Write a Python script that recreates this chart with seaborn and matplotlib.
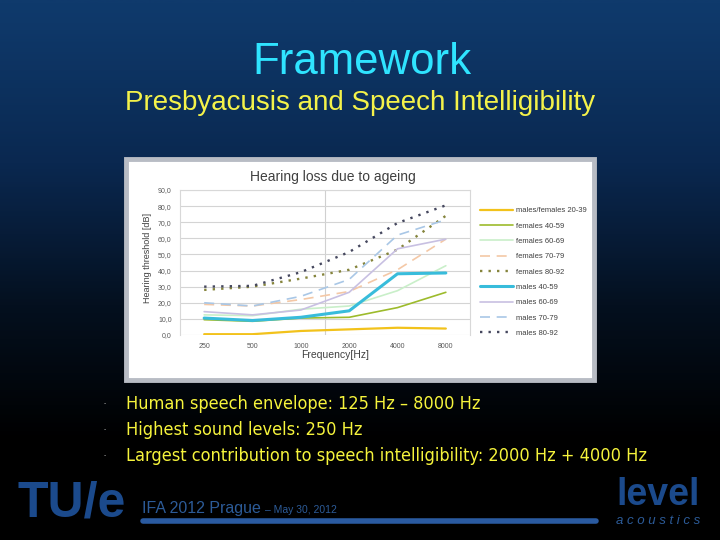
import numpy as np
import pandas as pd
import seaborn as sns
import matplotlib.pyplot as plt
from matplotlib.colors import LinearSegmentedColormap
from matplotlib.patches import Rectangle

# Data (hearing threshold in dB)
freqs = ["250", "500", "1000", "2000", "4000", "8000"]
mf_20_39 = [0.5, 0.5, 2.5, 3.5, 4.5, 4.0]
f_40_59 = [9.5, 8.5, 10.5, 11.0, 17.0, 26.5]
f_60_69 = [12.5, 12.0, 16.0, 18.0, 27.5, 43.0]
f_70_79 = [19.0, 18.0, 22.0, 27.0, 40.5, 59.5]
f_80_92 = [28.0, 30.0, 35.0, 40.5, 53.0, 74.0]
m_40_59 = [10.5, 9.0, 11.0, 15.0, 38.0, 38.5]
m_60_69 = [14.5, 12.5, 15.5, 26.5, 53.5, 59.5]
m_70_79 = [20.0, 18.0, 24.0, 34.5, 62.0, 71.5]
m_80_92 = [30.0, 30.5, 39.0, 51.5, 69.5, 80.5]

series = [
    ("males/females 20-39", mf_20_39, "#f2c21b", "-", 1.6),
    ("females 40-59", f_40_59, "#9dbb2c", "-", 1.2),
    ("females 60-69", f_60_69, "#c9efc9", "-", 1.2),
    ("females 70-79", f_70_79, "#f4c8a6", (0, (6, 4)), 1.2),
    ("females 80-92", f_80_92, "#85843c", (0, (1, 2.6)), 1.7),
    ("males 40-59", m_40_59, "#38bcdb", "-", 2.2),
    ("males 60-69", m_60_69, "#c8c0e2", "-", 1.2),
    ("males 70-79", m_70_79, "#a9c7e6", (0, (6, 4)), 1.2),
    ("males 80-92", m_80_92, "#45475e", (0, (1, 2.6)), 1.7),
]

df = pd.DataFrame({"pos": np.arange(len(freqs))})
for name, vals, _, _, _ in series:
    df[name] = vals

sns.set_style("white")
plt.rcParams["font.family"] = ["Liberation Sans", "DejaVu Sans"]

fig = plt.figure(figsize=(7.2, 5.4), dpi=100)

# slide background in pixel coordinates
bg = fig.add_axes([0, 0, 1, 1], zorder=-5)
bg.set_xlim(0, 720)
bg.set_ylim(540, 0)
bg.axis("off")
cmap = LinearSegmentedColormap.from_list("slide", ["#0f3a6c", "#0a2850", "#04101f", "#000000"])
grad = np.linspace(0, 1, 300).reshape(-1, 1) ** 1.1
bg.imshow(grad, cmap=cmap, extent=(0, 720, 540, 0), aspect="auto", vmin=0, vmax=0.8)

bg.text(362, 63, "Framework", color="#2fe4ff", fontsize=31.5, ha="center", va="center")
bg.text(360, 103, "Presbyacusis and Speech Intelligibility", color="#f4f24a",
        fontsize=20, ha="center", va="center")

# chart frame
bg.add_patch(Rectangle((126, 159), 468, 221, facecolor="white", edgecolor="#b8bcc4", lw=3.5))
bg.text(333, 177, "Hearing loss due to ageing", color="#404040", fontsize=10,
        ha="center", va="center")
bg.text(147, 258, "Hearing threshold [dB]", color="#404040", fontsize=6.5,
        rotation=90, ha="center", va="center")
bg.text(335, 355, "Frequency[Hz]", color="#404040", fontsize=7.5, ha="center", va="center")

# bullets
bullets = ["Human speech envelope: 125 Hz \u2013 8000 Hz",
           "Highest sound levels: 250 Hz",
           "Largest contribution to speech intelligibility: 2000 Hz + 4000 Hz"]
for i, b in enumerate(bullets):
    y = 404 + 26 * i
    bg.text(105, y, "\u00b7", color="#aaaaaa", fontsize=9, ha="center", va="center")
    bg.text(126, y, b, color="#f6f43c", fontsize=13, ha="left", va="center",
            family="DejaVu Sans", fontstretch="condensed")

# footer
bg.text(17, 503, "TU/e", color="#1b4a8c", fontsize=36, fontweight="bold", ha="left", va="center")
bg.text(142, 509, "IFA 2012 Prague", color="#2c5b98", fontsize=11.5, ha="left", va="center")
bg.text(265, 510, "\u2013 May 30, 2012", color="#2c5b98", fontsize=7.5, ha="left", va="center")
bg.plot([143, 596], [521, 521], color="#2a5aa0", lw=4, solid_capstyle="round")
bg.text(658, 495, "level", color="#1b4a8c", fontsize=27, fontweight="bold", ha="center", va="center")
bg.text(658, 521, "a c o u s t i c s", color="#2c5b98", fontsize=9.5, style="italic",
        ha="center", va="center")

# the chart itself
ax = fig.add_axes([180 / 720, 1 - 335 / 540, 290 / 720, 145 / 540], zorder=2)
ax.set_facecolor("white")
for name, vals, color, ls, lw in series:
    sns.lineplot(data=df, x="pos", y=name, ax=ax, color=color, linestyle=ls,
                 linewidth=lw, label=name)

ax.set_xlim(-0.5, 5.5)
ax.set_ylim(0, 90)
ax.set_xticks(range(len(freqs)))
ax.set_xticklabels(freqs)
yt = np.arange(0, 91, 10)
ax.set_yticks(yt)
ax.set_yticklabels([f"{v:.1f}".replace(".", ",") for v in yt])
ax.tick_params(length=0, labelsize=5, colors="#595959", pad=6)
ax.grid(axis="y", color="#d4d4d4", lw=0.8)
ax.axvline(2.5, color="#d0d0d0", lw=0.8, zorder=0)
ax.set_xlabel("")
ax.set_ylabel("")
for s in ax.spines.values():
    s.set_color("#d8d8d8")
    s.set_linewidth(0.8)
ax.spines["bottom"].set_visible(False)

leg = ax.legend(loc="upper left", bbox_to_anchor=(473 / 720, 1 - 200 / 540),
                bbox_transform=fig.transFigure, frameon=False, fontsize=5.5,
                handlelength=4.4, handletextpad=0.3, labelspacing=1.05)
for t in leg.get_texts():
    t.set_color("#404040")

fig.savefig("out.png", dpi=100)
